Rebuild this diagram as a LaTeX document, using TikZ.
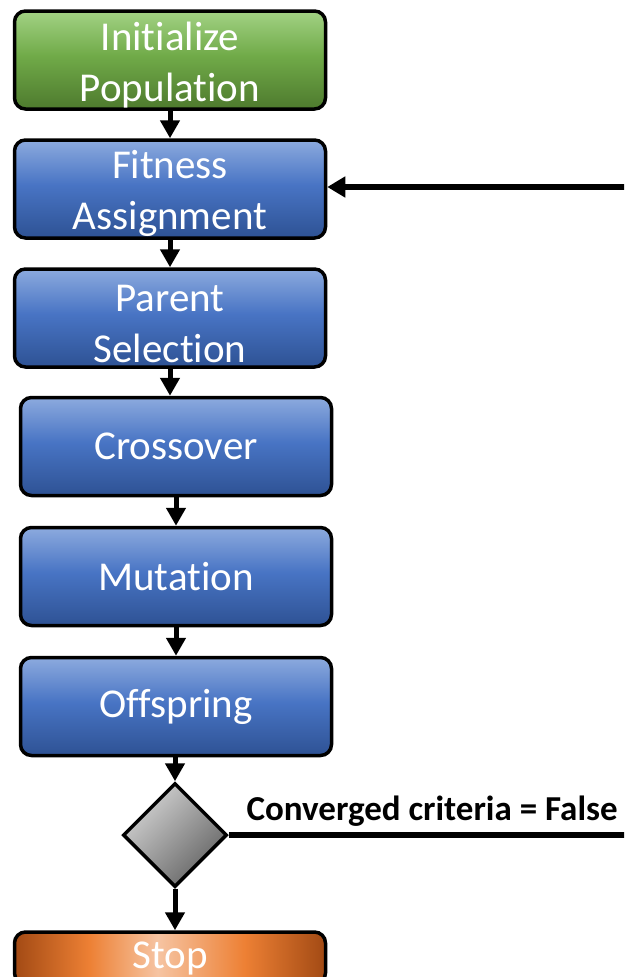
\documentclass[tikz,border=0pt]{standalone}
\usepackage{fontspec}
\setmainfont{Carlito}[Ligatures=NoCommon]
\usetikzlibrary{arrows.meta,shapes.geometric}

% fill colours
\definecolor{bluetop}{RGB}{140,170,222}
\definecolor{bluemid}{RGB}{72,116,196}
\definecolor{bluebot}{RGB}{46,82,148}
\definecolor{greentop}{RGB}{162,210,132}
\definecolor{greenmid}{RGB}{112,170,72}
\definecolor{greenbot}{RGB}{78,122,46}
\definecolor{stopbrown}{RGB}{162,74,20}
\definecolor{stoporange}{RGB}{237,128,52}
\definecolor{stoplight}{RGB}{246,196,162}
\definecolor{diaglight}{RGB}{210,210,210}
\definecolor{diagdark}{RGB}{100,100,100}

\pgfdeclareverticalshading{blueshade}{100bp}{color(0bp)=(bluebot); color(25bp)=(bluebot); color(52bp)=(bluemid); color(75bp)=(bluetop); color(100bp)=(bluetop)}
\pgfdeclareverticalshading{greenshade}{100bp}{color(0bp)=(greenbot); color(25bp)=(greenbot); color(52bp)=(greenmid); color(75bp)=(greentop); color(100bp)=(greentop)}
\pgfdeclarehorizontalshading{stopshade}{100bp}{color(0bp)=(stopbrown); color(25bp)=(stopbrown); color(37bp)=(stoporange); color(48bp)=(stoplight); color(62bp)=(stoporange); color(75bp)=(stopbrown); color(100bp)=(stopbrown)}

% invisible strut that lowers a two-line label a little in its box
\newcommand{\lowstrut}{\rule{0pt}{38pt}}

\tikzset{
  stepbox/.style={draw=black, line width=3.5pt, rounded corners=11pt,
    minimum width=311pt, minimum height=98pt, inner sep=0pt,
    align=center, text=white, font=\fontsize{41}{51}\selectfont},
  bluebox/.style={stepbox, shading=blueshade},
  greenbox/.style={stepbox, shading=greenshade},
  stopbox/.style={stepbox, minimum height=52pt, shading=stopshade},
  decision/.style={diamond, draw=black, line width=3.5pt, aspect=1,
    minimum width=104pt, minimum height=104pt, inner sep=0pt,
    top color=diaglight, bottom color=diagdark, shading angle=45},
  flow/.style={line width=5pt, -{Triangle[width=19pt,length=18pt]}},
  loopline/.style={line width=6pt},
  looparrow/.style={line width=6pt, -{Triangle[width=20pt,length=18pt]}}
}

\begin{document}
\begin{tikzpicture}[x=1pt,y=-1pt]
  \useasboundingbox (0,0) rectangle (624,977);
  \clip (0,0) rectangle (624,977);

  % process steps
  \node[greenbox] (init)  at (170,60)    {\lowstrut Initialize\\Population};
  \node[bluebox]  (fit)   at (170,189)   {\lowstrut Fitness\\Assignment};
  \node[bluebox]  (par)   at (170,318)   {\lowstrut Parent\\Selection};
  \node[bluebox]  (cross) at (176,446.5) {Crossover};
  \node[bluebox]  (mut)   at (176,576.5) {Mutation};
  \node[bluebox]  (off)   at (176,706.5) {Offspring};
  \node[decision] (conv)  at (175,835)   {};
  \node[stopbox]  (stop)  at (170,958)   {Stop};

  % loop ends at the right edge
  \coordinate (loopout) at (630,835);
  \coordinate (loopin)  at (630,187);

  % main flow
  \draw[flow] (init) -- (fit);
  \draw[flow] (fit) -- (par);
  \draw[flow] (par.south) -- (par.south |- cross.north);
  \draw[flow] (cross) -- (mut);
  \draw[flow] (mut) -- (off);
  \draw[flow] (off.south -| conv.north) -- (conv.north);
  \draw[flow] (conv.south) -- (conv.south |- stop.north);

  % loop back to fitness assignment
  \draw[loopline] (conv.east) -- (loopout);
  \draw[looparrow] (loopin) -- (loopin -| fit.east);

  \node[anchor=base west, font=\fontsize{35}{40}\selectfont\bfseries] (lbl)
    at (243,820) {Converged criteria = False};
\end{tikzpicture}
\end{document}
